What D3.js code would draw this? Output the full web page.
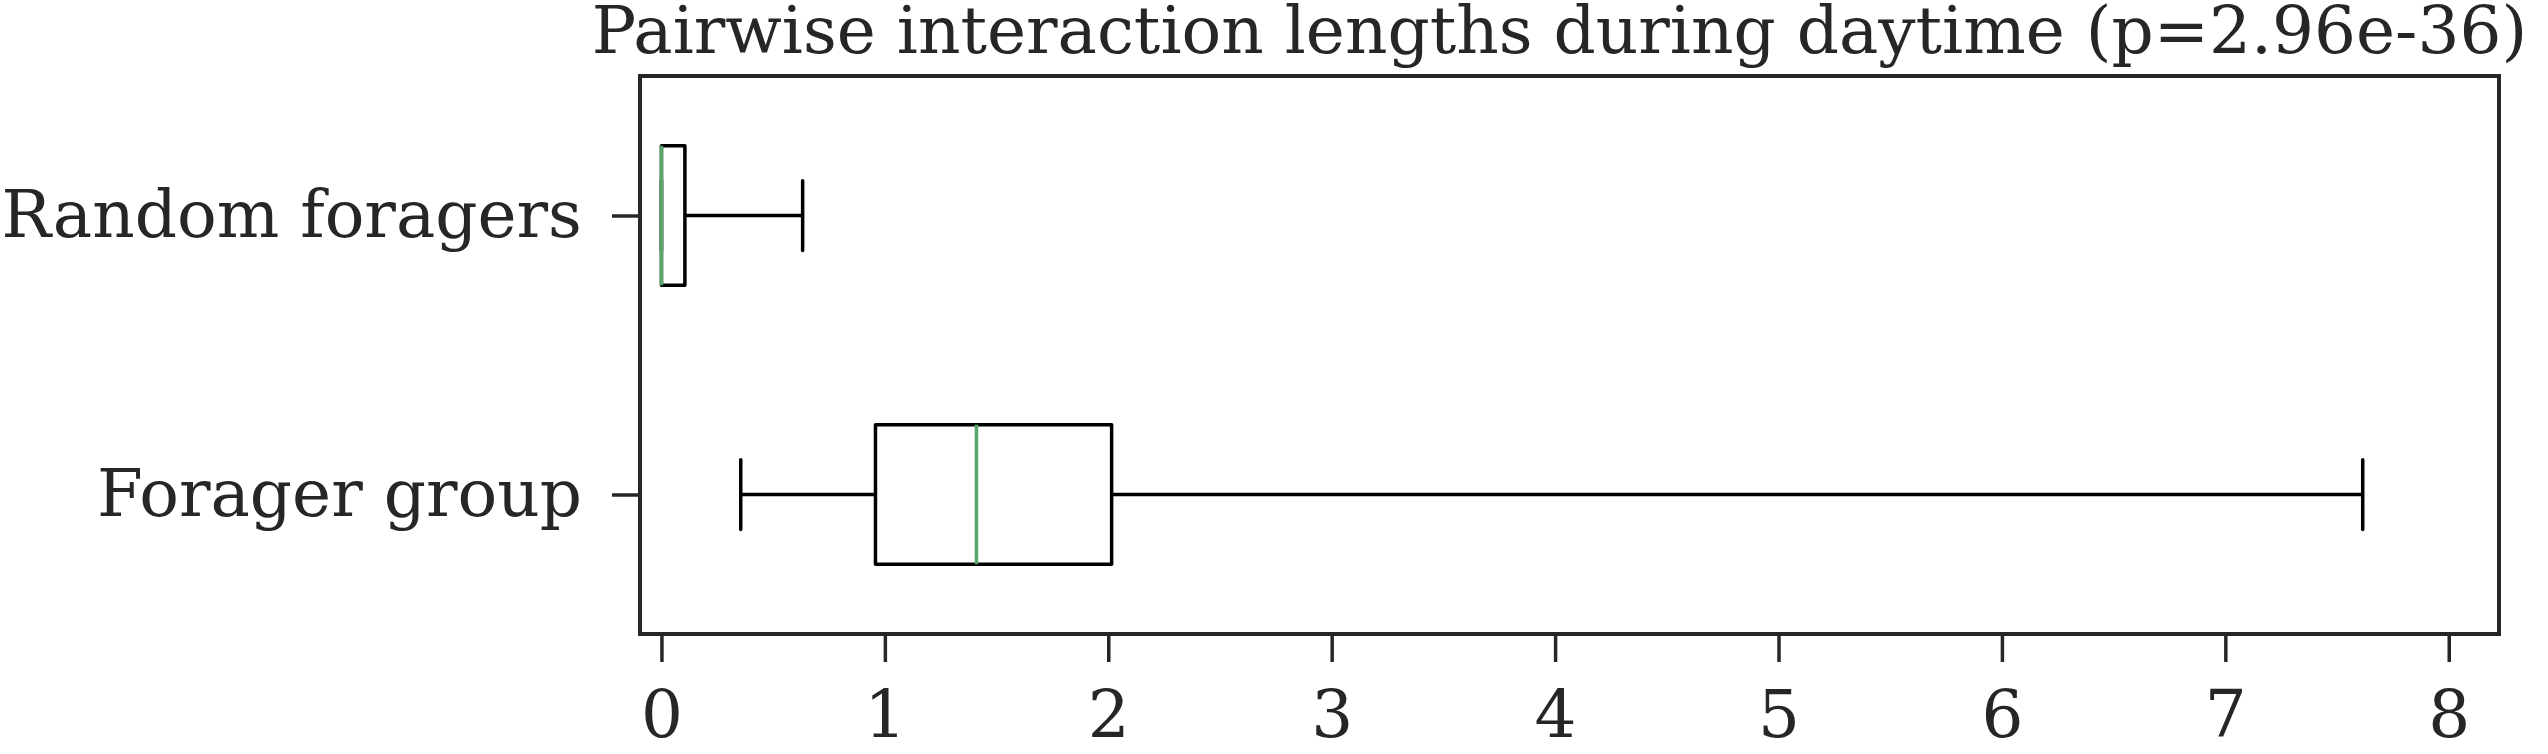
<!DOCTYPE html>
<html>
<head>
<meta charset="utf-8">
<script src="https://cdn.jsdelivr.net/npm/d3@7"></script>
<style>
  html, body { margin: 0; padding: 0; background: #ffffff; }
  svg { display: block; }
  text { font-family: "DejaVu Serif", serif; fill: #262626; }
</style>
</head>
<body>
<script>
// ---- data ----
const categories   = ["Random foragers", "Forager group"];
const whiskerLow   = [0.0, 0.355];
const quartile1    = [0.0, 0.958];
const medians      = [0.0, 1.41];
const quartile3    = [0.105, 2.015];
const whiskerHigh  = [0.632, 7.615];
const xTicks       = [0, 1, 2, 3, 4, 5, 6, 7, 8];
const titleText    = "Pairwise interaction lengths during daytime (p=2.96e-36)";

// ---- layout ----
const W = 2548, H = 754;
const plot = { left: 640, right: 2499, top: 76, bottom: 634 };
const fontSize = 66;

const svg = d3.select("body").append("svg").attr("width", W).attr("height", H);

const x = d3.scaleLinear().domain([-0.096, 8.225]).range([plot.left, plot.right]);
const y = d3.scalePoint().domain(categories).range([plot.top, plot.bottom]).padding(0.5);
const boxH = y.step() * 0.5;

const rows = categories.map((c, i) => ({
  cat: c, lo: whiskerLow[i], q1: quartile1[i], med: medians[i], q3: quartile3[i], hi: whiskerHigh[i]
}));

const g = svg.append("g");
const boxStroke = "#000000", lw = 3.5;

const bx = g.selectAll("g.box").data(rows).join("g").attr("class", "box");
// whiskers
bx.append("line").attr("x1", d => x(d.lo)).attr("x2", d => x(d.q1))
  .attr("y1", d => y(d.cat)).attr("y2", d => y(d.cat))
  .attr("stroke", boxStroke).attr("stroke-width", lw);
bx.append("line").attr("x1", d => x(d.q3)).attr("x2", d => x(d.hi))
  .attr("y1", d => y(d.cat)).attr("y2", d => y(d.cat))
  .attr("stroke", boxStroke).attr("stroke-width", lw);
// caps
bx.append("line").attr("x1", d => x(d.lo)).attr("x2", d => x(d.lo))
  .attr("y1", d => y(d.cat) - boxH / 4).attr("y2", d => y(d.cat) + boxH / 4)
  .attr("stroke", boxStroke).attr("stroke-width", lw).attr("stroke-linecap", "round");
bx.append("line").attr("x1", d => x(d.hi)).attr("x2", d => x(d.hi))
  .attr("y1", d => y(d.cat) - boxH / 4).attr("y2", d => y(d.cat) + boxH / 4)
  .attr("stroke", boxStroke).attr("stroke-width", lw).attr("stroke-linecap", "round");
// box
bx.append("rect").attr("x", d => x(d.q1)).attr("width", d => x(d.q3) - x(d.q1))
  .attr("y", d => y(d.cat) - boxH / 2).attr("height", boxH)
  .attr("fill", "none").attr("stroke", boxStroke).attr("stroke-width", lw)
  .attr("stroke-linejoin", "round");
// median
bx.append("line").attr("x1", d => x(d.med)).attr("x2", d => x(d.med))
  .attr("y1", d => y(d.cat) - boxH / 2).attr("y2", d => y(d.cat) + boxH / 2)
  .attr("stroke", "#55a868").attr("stroke-width", lw);

// frame
svg.append("rect").attr("x", plot.left).attr("y", plot.top)
  .attr("width", plot.right - plot.left).attr("height", plot.bottom - plot.top)
  .attr("fill", "none").attr("stroke", "#262626").attr("stroke-width", 4);

// x axis
const xAxis = d3.axisBottom(x).tickValues(xTicks).tickFormat(d3.format("d"))
  .tickSizeInner(26).tickSizeOuter(0).tickPadding(28);
const xg = svg.append("g").attr("transform", `translate(0,${plot.bottom + 2})`).call(xAxis);
xg.select(".domain").remove();
xg.selectAll(".tick line").attr("stroke", "#262626").attr("stroke-width", 3.5);
xg.selectAll(".tick text").attr("font-size", fontSize).attr("font-family", "DejaVu Serif").attr("fill", "#262626");

// y axis
const yAxis = d3.axisLeft(y).tickSizeInner(26).tickSizeOuter(0).tickPadding(30);
const yg = svg.append("g").attr("transform", `translate(${plot.left - 2},0)`).call(yAxis);
yg.select(".domain").remove();
yg.selectAll(".tick line").attr("stroke", "#262626").attr("stroke-width", 3.5);
yg.selectAll(".tick text").attr("font-size", fontSize).attr("font-family", "DejaVu Serif").attr("fill", "#262626");

// title
svg.append("text").attr("x", (plot.left + plot.right) / 2 - 10).attr("y", 53)
  .attr("text-anchor", "middle").attr("font-size", fontSize).text(titleText);
</script>
</body>
</html>
